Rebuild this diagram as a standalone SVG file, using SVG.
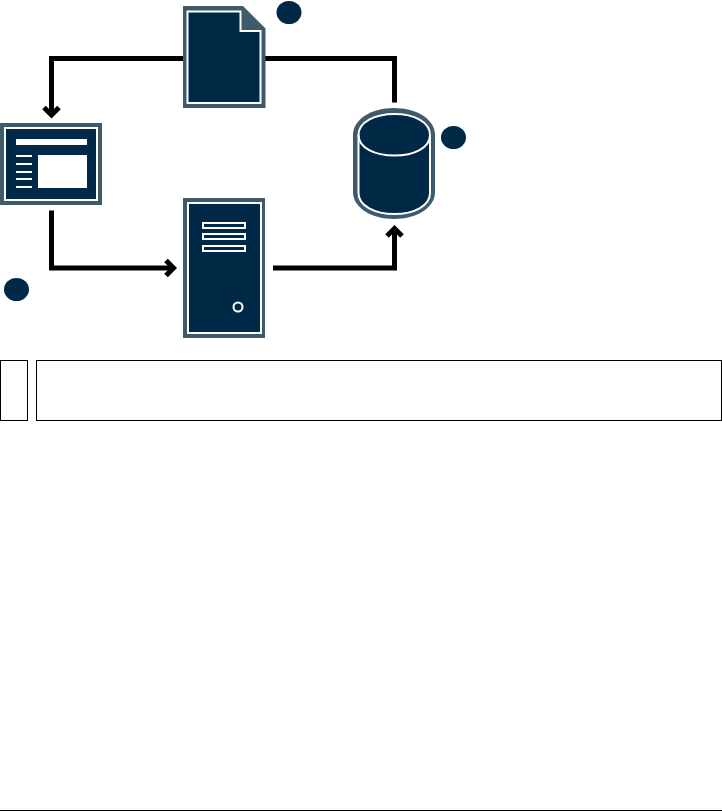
<svg xmlns="http://www.w3.org/2000/svg" width="722" height="811" viewBox="0 0 722 811">
<style>
.o{fill:#3f5a6b}
.w{fill:#fff}
.n{fill:#002947}
.r{fill:#002947;stroke:#fff;stroke-width:2}
.c{fill:none;stroke:#000;stroke-width:5}
.t{fill:#fff;stroke:#000;stroke-width:1}
</style>
<defs>
<marker id="a" markerUnits="userSpaceOnUse" markerWidth="24" markerHeight="24" refX="15" refY="12" orient="auto">
<path d="M7.500 4.500 L15 12 L7.500 19.500" fill="none" stroke="#000" stroke-width="5"/>
</marker>
</defs>
<rect width="722" height="811" fill="#fff"/>
<g id="connectors">
<path class="c" d="M183 58.500H51.500V115" marker-end="url(#a)"/>
<path class="c" d="M265 58.500H394.500V102.500"/>
<path class="c" d="M51.500 210.500V268H173.500" marker-end="url(#a)"/>
<path class="c" d="M273 268H394.500V228.500" marker-end="url(#a)"/>
</g>
<g id="document">
<path class="o" d="M183 6H243L265.500 28.500V108H183Z"/>
<path class="r" d="M187.500 11.500H240.500V31H260.500V103H187.500Z"/>
</g>
<g id="window">
<rect class="o" x="0" y="123" width="102" height="82"/>
<rect class="r" x="5" y="128" width="92" height="72"/>
<rect class="w" x="16" y="139" width="71" height="6"/>
<rect class="w" x="38" y="155" width="49" height="33"/>
<rect class="w" x="16" y="155" width="16" height="2"/>
<rect class="w" x="16" y="163" width="16" height="2"/>
<rect class="w" x="16" y="171" width="16" height="2"/>
<rect class="w" x="16" y="178" width="16" height="2"/>
<rect class="w" x="16" y="186" width="16" height="2"/>
</g>
<g id="server">
<rect class="o" x="183" y="198" width="82" height="140"/>
<rect class="r" x="188" y="203" width="73" height="130"/>
<rect class="r" x="203" y="223" width="42" height="5"/>
<rect class="r" x="203" y="234" width="42" height="5"/>
<rect class="r" x="203" y="246" width="42" height="5"/>
<circle class="r" cx="238" cy="307" r="4.500"/>
</g>
<g id="database">
<path class="o" d="M353 135C353 119 372 108 394 108S435 119 435 135V192C435 208 416 219 394 219S353 208 353 192Z"/>
<path class="r" d="M358.500 135C358.500 122 375 114 394.500 114S430 122 430 135V193C430 206 414 214 394.500 214S358.500 206 358.500 193Z"/>
<path d="M358.500 135C358.500 148 375 155.500 394.500 155.500S430 148 430 135" fill="none" stroke="#fff" stroke-width="2"/>
</g>
<g id="badge-1"><ellipse class="n" cx="289" cy="12.500" rx="12.500" ry="11.500"/></g>
<g id="badge-2"><ellipse class="n" cx="453.500" cy="137.500" rx="12.500" ry="11.500"/></g>
<g id="badge-3"><ellipse class="n" cx="16.500" cy="289.500" rx="12.500" ry="11.500"/></g>
<g id="note">
<rect class="t" x="0.500" y="360.500" width="27" height="60"/>
<rect class="t" x="36.500" y="360.500" width="685" height="60"/>
</g>
<path d="M0 810.500H722" stroke="#000" stroke-width="1"/>
</svg>
